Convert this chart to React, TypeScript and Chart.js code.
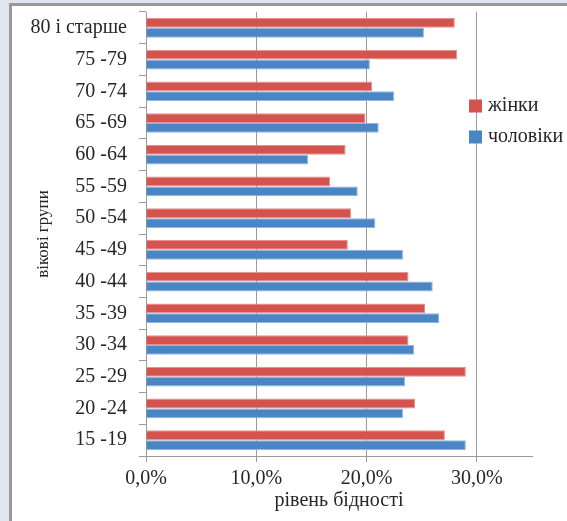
import React, { useEffect, useRef } from "react";
import { Chart, registerables } from "chart.js";

Chart.register(...registerables);

const categories = [
  "80 і старше",
  "75 -79",
  "70 -74",
  "65 -69",
  "60 -64",
  "55 -59",
  "50 -54",
  "45 -49",
  "40 -44",
  "35 -39",
  "30 -34",
  "25 -29",
  "20 -24",
  "15 -19",
];

const women = [28.0, 28.2, 20.5, 19.9, 18.1, 16.7, 18.6, 18.3, 23.8, 25.3, 23.8, 29.0, 24.4, 27.1];
const men = [25.2, 20.3, 22.5, 21.1, 14.7, 19.2, 20.8, 23.3, 26.0, 26.6, 24.3, 23.5, 23.3, 29.0];

const seriesNames = ["жінки", "чоловіки"];
const xTicks = [0, 10, 20, 30];

const FONT = '"Liberation Serif", "Times New Roman", serif';
const TEXT = "#262626";
const GRID = "#9a9a9a";
const RED = "#d4534f";
const BLUE = "#4a85c6";

const legendPlugin = {
  id: "customLegend",
  afterDraw(chart: any) {
    const ctx = chart.ctx;
    ctx.save();
    ctx.font = `20px ${FONT}`;
    ctx.textBaseline = "middle";
    ctx.textAlign = "left";
    chart.data.datasets.forEach((ds: any, i: number) => {
      const y = 100 + i * 31;
      ctx.fillStyle = ds.backgroundColor;
      ctx.fillRect(457, y - 6.5, 13, 13);
      ctx.fillStyle = TEXT;
      ctx.fillText(ds.label, 476, y);
    });
    ctx.restore();
  },
};

export default function App() {
  const ref = useRef<HTMLCanvasElement | null>(null);

  useEffect(() => {
    if (!ref.current) return;
    let chart: any = null;
    let cancelled = false;
    const build = () => {
      if (cancelled || !ref.current) return;
      chart = new Chart(ref.current, {
        type: "bar",
        data: {
          labels: categories,
          datasets: [
            {
              label: seriesNames[0],
              data: women,
              backgroundColor: RED,
              borderColor: "#e7918e",
              borderWidth: 1,
              barPercentage: 1,
              categoryPercentage: 0.62,
            },
            {
              label: seriesNames[1],
              data: men,
              backgroundColor: BLUE,
              borderColor: "#93b6e0",
              borderWidth: 1,
              barPercentage: 1,
              categoryPercentage: 0.62,
            },
          ],
        },
        options: {
          indexAxis: "y",
          animation: false,
          responsive: false,
          maintainAspectRatio: false,
          layout: { padding: { top: 6, right: 35, left: 0, bottom: 0 } },
          plugins: {
            legend: { display: false },
            tooltip: { enabled: false },
          },
          scales: {
            x: {
              min: 0,
              max: 35,
              afterBuildTicks: (scale: any) => {
                scale.ticks = xTicks.map((v) => ({ value: v }));
              },
              afterFit: (scale: any) => {
                scale.height = 65;
                scale.paddingLeft = 0;
                scale.paddingRight = 0;
              },
              ticks: {
                color: TEXT,
                font: { family: FONT, size: 20 },
                padding: 5,
                maxRotation: 0,
                callback: (v: any) => Number(v).toFixed(1).replace(".", ",") + "%",
              },
              grid: {
                color: GRID,
                lineWidth: 1,
                drawTicks: true,
                tickLength: 6,
                tickColor: GRID,
              },
              border: { display: true, color: GRID, width: 1 },
              title: {
                display: true,
                text: "рівень бідності",
                color: TEXT,
                font: { family: FONT, size: 20 },
                padding: { top: 0, bottom: 8 },
              },
            },
            y: {
              afterFit: (scale: any) => {
                scale.width = 134;
                scale.paddingTop = 0;
                scale.paddingBottom = 0;
              },
              ticks: {
                color: TEXT,
                font: { family: FONT, size: 20 },
                padding: 12,
                autoSkip: false,
              },
              grid: {
                display: true,
                drawOnChartArea: false,
                drawTicks: true,
                tickLength: 7,
                offset: true,
                color: GRID,
                tickColor: GRID,
              },
              border: { display: true, color: GRID, width: 1 },
              title: {
                display: true,
                text: "вікові групи",
                color: TEXT,
                font: { family: FONT, size: 17 },
                padding: { top: 21, bottom: 0 },
              },
            },
          },
        },
        plugins: [legendPlugin],
      } as any);
    };
    const fonts: any = (document as any).fonts;
    if (fonts && fonts.load) {
      fonts.load('20px "Liberation Serif"', "рівень 0,0%").then(build, build);
    } else {
      build();
    }
    return () => {
      cancelled = true;
      if (chart) chart.destroy();
    };
  }, []);

  return (
    <div
      style={{
        position: "fixed",
        left: 0,
        top: 0,
        width: 567,
        height: 521,
        background: "#dfe6ed",
        overflow: "hidden",
      }}
    >
      <div
        style={{
          position: "absolute",
          left: 9,
          top: 3,
          width: 600,
          height: 560,
          background: "#ffffff",
          borderLeft: "3px solid #999999",
          borderTop: "3px solid #999999",
        }}
      >
        <canvas ref={ref} width={555} height={515} style={{ display: "block" }} />
      </div>
    </div>
  );
}
